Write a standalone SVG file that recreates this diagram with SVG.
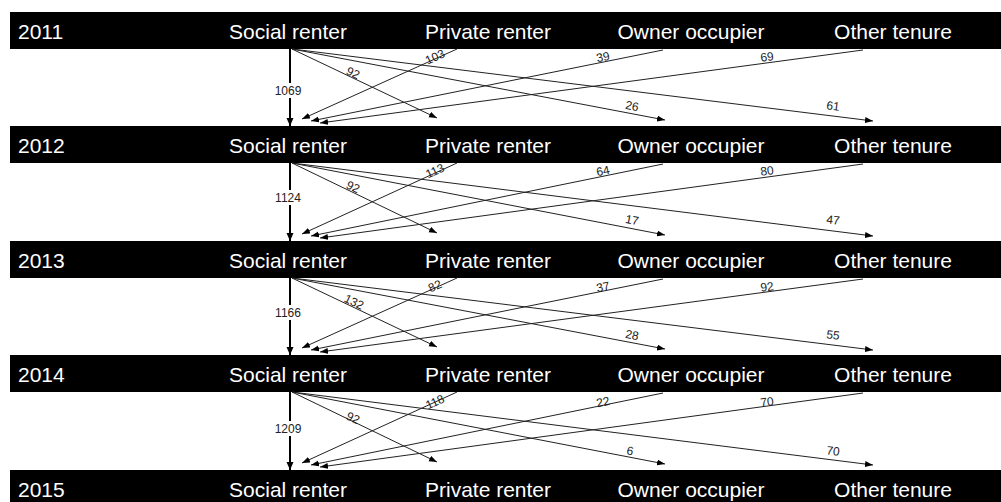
<svg xmlns="http://www.w3.org/2000/svg" width="1001" height="502" viewBox="0 0 1001 502">
<style>
.band{fill:#000}
.bt{font-family:"Liberation Sans",Arial,sans-serif;font-size:21px;fill:#fff}
.c{text-anchor:middle}
.ln{stroke:#222;stroke-width:1;fill:none;marker-end:url(#ah)}
.vl{stroke:#000;stroke-width:2;fill:none;marker-end:url(#ahv)}
.lb{font-family:"Liberation Sans",Arial,sans-serif;font-size:12px;fill:#222;text-anchor:middle}
.bg{fill:#fff}
</style>
<defs>
<marker id="ah" markerUnits="userSpaceOnUse" markerWidth="9" markerHeight="7" refX="8" refY="3" orient="auto"><path d="M0,0 L8,3 L0,6 z" fill="#000"/></marker>
<marker id="ahv" markerUnits="userSpaceOnUse" markerWidth="9" markerHeight="8" refX="8" refY="3.5" orient="auto"><path d="M0,0 L8,3.5 L0,7 z" fill="#000"/></marker>
</defs>
<rect width="1001" height="502" fill="#fff"/>
<g id="y2011"><rect class="band" x="10" y="12" width="991" height="37"/><text class="bt" x="18" y="39">2011</text><text class="bt c" x="288" y="39">Social renter</text><text class="bt c" x="488" y="39">Private renter</text><text class="bt c" x="691" y="39">Owner occupier</text><text class="bt c" x="893" y="39">Other tenure</text></g>
<g id="y2012"><rect class="band" x="10" y="126" width="991" height="37"/><text class="bt" x="18" y="153">2012</text><text class="bt c" x="288" y="153">Social renter</text><text class="bt c" x="488" y="153">Private renter</text><text class="bt c" x="691" y="153">Owner occupier</text><text class="bt c" x="893" y="153">Other tenure</text></g>
<g id="y2013"><rect class="band" x="10" y="241" width="991" height="37"/><text class="bt" x="18" y="268">2013</text><text class="bt c" x="288" y="268">Social renter</text><text class="bt c" x="488" y="268">Private renter</text><text class="bt c" x="691" y="268">Owner occupier</text><text class="bt c" x="893" y="268">Other tenure</text></g>
<g id="y2014"><rect class="band" x="10" y="355" width="991" height="37"/><text class="bt" x="18" y="382">2014</text><text class="bt c" x="288" y="382">Social renter</text><text class="bt c" x="488" y="382">Private renter</text><text class="bt c" x="691" y="382">Owner occupier</text><text class="bt c" x="893" y="382">Other tenure</text></g>
<g id="y2015"><rect class="band" x="10" y="470" width="991" height="37"/><text class="bt" x="18" y="497">2015</text><text class="bt c" x="288" y="497">Social renter</text><text class="bt c" x="488" y="497">Private renter</text><text class="bt c" x="691" y="497">Owner occupier</text><text class="bt c" x="893" y="497">Other tenure</text></g>
<g id="connectors">
<!-- 2011 -> 2012 -->
<line class="vl" x1="290" y1="49" x2="290" y2="126"/>
<rect class="bg" x="273" y="83" width="30" height="15"/><text class="lb" x="288" y="95">1069</text>
<line class="ln" x1="292" y1="49" x2="437" y2="118"/>
<line class="ln" x1="292" y1="49" x2="665" y2="120"/>
<line class="ln" x1="292" y1="49" x2="873" y2="121"/>
<line class="ln" x1="457" y1="49" x2="302" y2="119"/>
<line class="ln" x1="663" y1="50" x2="311" y2="121"/>
<line class="ln" x1="863" y1="50" x2="320" y2="123"/>
<text class="lb" transform="translate(353,73) rotate(25.8)" y="4">92</text>
<text class="lb" transform="translate(632,106) rotate(10.9)" y="4">26</text>
<text class="lb" transform="translate(833,106) rotate(7.2)" y="4">61</text>
<text class="lb" transform="translate(435,57) rotate(-24.6)" y="4">103</text>
<text class="lb" transform="translate(603,57) rotate(-11.4)" y="4">39</text>
<text class="lb" transform="translate(767,57) rotate(-7.7)" y="4">69</text>
<!-- 2012 -> 2013 -->
<line class="vl" x1="290" y1="163" x2="290" y2="241"/>
<rect class="bg" x="273" y="190" width="30" height="15"/><text class="lb" x="288" y="202">1124</text>
<line class="ln" x1="292" y1="163" x2="437" y2="233"/>
<line class="ln" x1="292" y1="163" x2="665" y2="235"/>
<line class="ln" x1="292" y1="163" x2="873" y2="236"/>
<line class="ln" x1="457" y1="163" x2="302" y2="234"/>
<line class="ln" x1="663" y1="164" x2="311" y2="236"/>
<line class="ln" x1="863" y1="164" x2="320" y2="238"/>
<text class="lb" transform="translate(353,187) rotate(25.8)" y="4">92</text>
<text class="lb" transform="translate(632,220) rotate(10.9)" y="4">17</text>
<text class="lb" transform="translate(833,220) rotate(7.2)" y="4">47</text>
<text class="lb" transform="translate(435,171) rotate(-24.6)" y="4">113</text>
<text class="lb" transform="translate(603,171) rotate(-11.4)" y="4">64</text>
<text class="lb" transform="translate(767,171) rotate(-7.7)" y="4">80</text>
<!-- 2013 -> 2014 -->
<line class="vl" x1="290" y1="278" x2="290" y2="355"/>
<rect class="bg" x="273" y="305" width="30" height="15"/><text class="lb" x="288" y="317">1166</text>
<line class="ln" x1="292" y1="278" x2="437" y2="347"/>
<line class="ln" x1="292" y1="278" x2="665" y2="349"/>
<line class="ln" x1="292" y1="278" x2="873" y2="350"/>
<line class="ln" x1="457" y1="278" x2="302" y2="348"/>
<line class="ln" x1="663" y1="279" x2="311" y2="350"/>
<line class="ln" x1="863" y1="279" x2="320" y2="352"/>
<text class="lb" transform="translate(354,302) rotate(25.8)" y="4">132</text>
<text class="lb" transform="translate(632,335) rotate(10.9)" y="4">28</text>
<text class="lb" transform="translate(833,335) rotate(7.2)" y="4">55</text>
<text class="lb" transform="translate(435,286) rotate(-24.6)" y="4">82</text>
<text class="lb" transform="translate(603,287) rotate(-11.4)" y="4">37</text>
<text class="lb" transform="translate(767,287) rotate(-7.7)" y="4">92</text>
<!-- 2014 -> 2015 -->
<line class="vl" x1="290" y1="392" x2="290" y2="470"/>
<rect class="bg" x="273" y="421" width="30" height="15"/><text class="lb" x="288" y="433">1209</text>
<line class="ln" x1="292" y1="392" x2="437" y2="462"/>
<line class="ln" x1="292" y1="392" x2="665" y2="464"/>
<line class="ln" x1="292" y1="392" x2="873" y2="465"/>
<line class="ln" x1="457" y1="392" x2="302" y2="463"/>
<line class="ln" x1="663" y1="393" x2="311" y2="465"/>
<line class="ln" x1="863" y1="393" x2="320" y2="467"/>
<text class="lb" transform="translate(353,418) rotate(25.8)" y="4">92</text>
<text class="lb" transform="translate(630,451) rotate(10.9)" y="4">6</text>
<text class="lb" transform="translate(833,451) rotate(7.2)" y="4">70</text>
<text class="lb" transform="translate(435,402) rotate(-24.6)" y="4">118</text>
<text class="lb" transform="translate(603,402) rotate(-11.4)" y="4">22</text>
<text class="lb" transform="translate(767,402) rotate(-7.7)" y="4">70</text>
</g>
</svg>
